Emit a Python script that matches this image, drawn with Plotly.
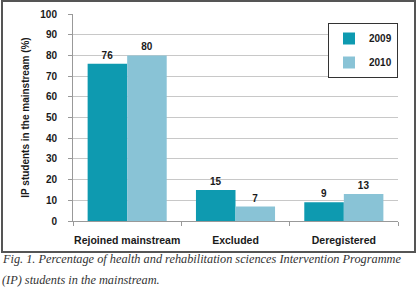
import plotly.graph_objects as go

categories = ["Rejoined mainstream", "Excluded", "Deregistered"]
series_names = ["2009", "2010"]
values_2009 = [76, 15, 9]
values_2010 = [80, 7, 13]
y_ticks = [0, 10, 20, 30, 40, 50, 60, 70, 80, 90, 100]
caption_lines = [
    "Fig. 1. Percentage of health and rehabilitation sciences Intervention Programme",
    "(IP) students in the mainstream.",
]

W, H = 417, 296
L, R, T, B = 73, 398, 14, 221  # plot area in pixels

def px_x(p):
    return (p - L) / (R - L)

def px_y(p):
    return (B - p) / (B - T)

colors = ["#0e9ab0", "#89c3d6"]
font_sans = "Liberation Sans"

fig = go.Figure()
for name, vals, col in zip(series_names, [values_2009, values_2010], colors):
    fig.add_trace(go.Bar(
        x=categories, y=vals, name=name, legendgroup=name,
        marker=dict(color=col, line=dict(width=0)),
        text=[str(v) for v in vals], textposition="outside",
        textfont=dict(family=font_sans, size=10, color="#1a1a1a", weight="bold"),
        cliponaxis=False,
    ))

fig.update_layout(
    width=W, height=H,
    margin=dict(l=L, r=W - R, t=T, b=H - B, pad=0, autoexpand=False),
    paper_bgcolor="white", plot_bgcolor="white",
    barmode="group", bargap=0.27, bargroupgap=0,
    font=dict(family=font_sans, color="#1a1a1a"),
    showlegend=True,
    legend=dict(
        x=px_x(328), y=px_y(23), xanchor="left", yanchor="top",
        bordercolor="#333333", borderwidth=1, bgcolor="white",
        font=dict(family=font_sans, size=10, color="#1a1a1a", weight="bold"),
        tracegroupgap=5, itemwidth=30, traceorder="grouped",
    ),
    xaxis=dict(
        type="category", showline=True, linecolor="#999999", linewidth=1,
        ticks="outside", tickson="boundaries", ticklen=4, tickcolor="#999999",
        tickangle=0, automargin=False, ticklabelstandoff=9,
        tickfont=dict(family=font_sans, size=10.5, color="#1a1a1a", weight="bold"),
        showgrid=False, zeroline=False,
    ),
    yaxis=dict(
        range=[0, 100], tickvals=y_ticks, ticktext=[str(v) for v in y_ticks],
        showline=True, linecolor="#999999", linewidth=1, automargin=False,
        ticks="outside", ticklen=4, tickcolor="#999999", ticklabelstandoff=9,
        showgrid=True, gridcolor="#c8c8c8", gridwidth=1, zeroline=False,
        tickfont=dict(family=font_sans, size=10, color="#1a1a1a", weight="bold"),
        title=dict(text="IP students in the mainstream (%)", standoff=8,
                   font=dict(family=font_sans, size=10, color="#1a1a1a", weight="bold")),
    ),
)

# outer frame around the chart
fig.add_shape(type="rect", xref="paper", yref="paper",
              x0=px_x(2), x1=px_x(415), y0=px_y(252), y1=px_y(1),
              line=dict(color="#555555", width=2), fillcolor="rgba(0,0,0,0)", layer="below")

for line, yc in zip(caption_lines, [259, 280]):
    fig.add_annotation(text=line, xref="paper", yref="paper",
                       x=px_x(0), y=px_y(yc), xanchor="left", yanchor="middle",
                       showarrow=False, align="left",
                       font=dict(family="Liberation Serif", size=12.3, color="#333333", style="italic"))

fig.write_html("out.html", config={"displayModeBar": False},
               post_script="document.body.style.margin='0';")
